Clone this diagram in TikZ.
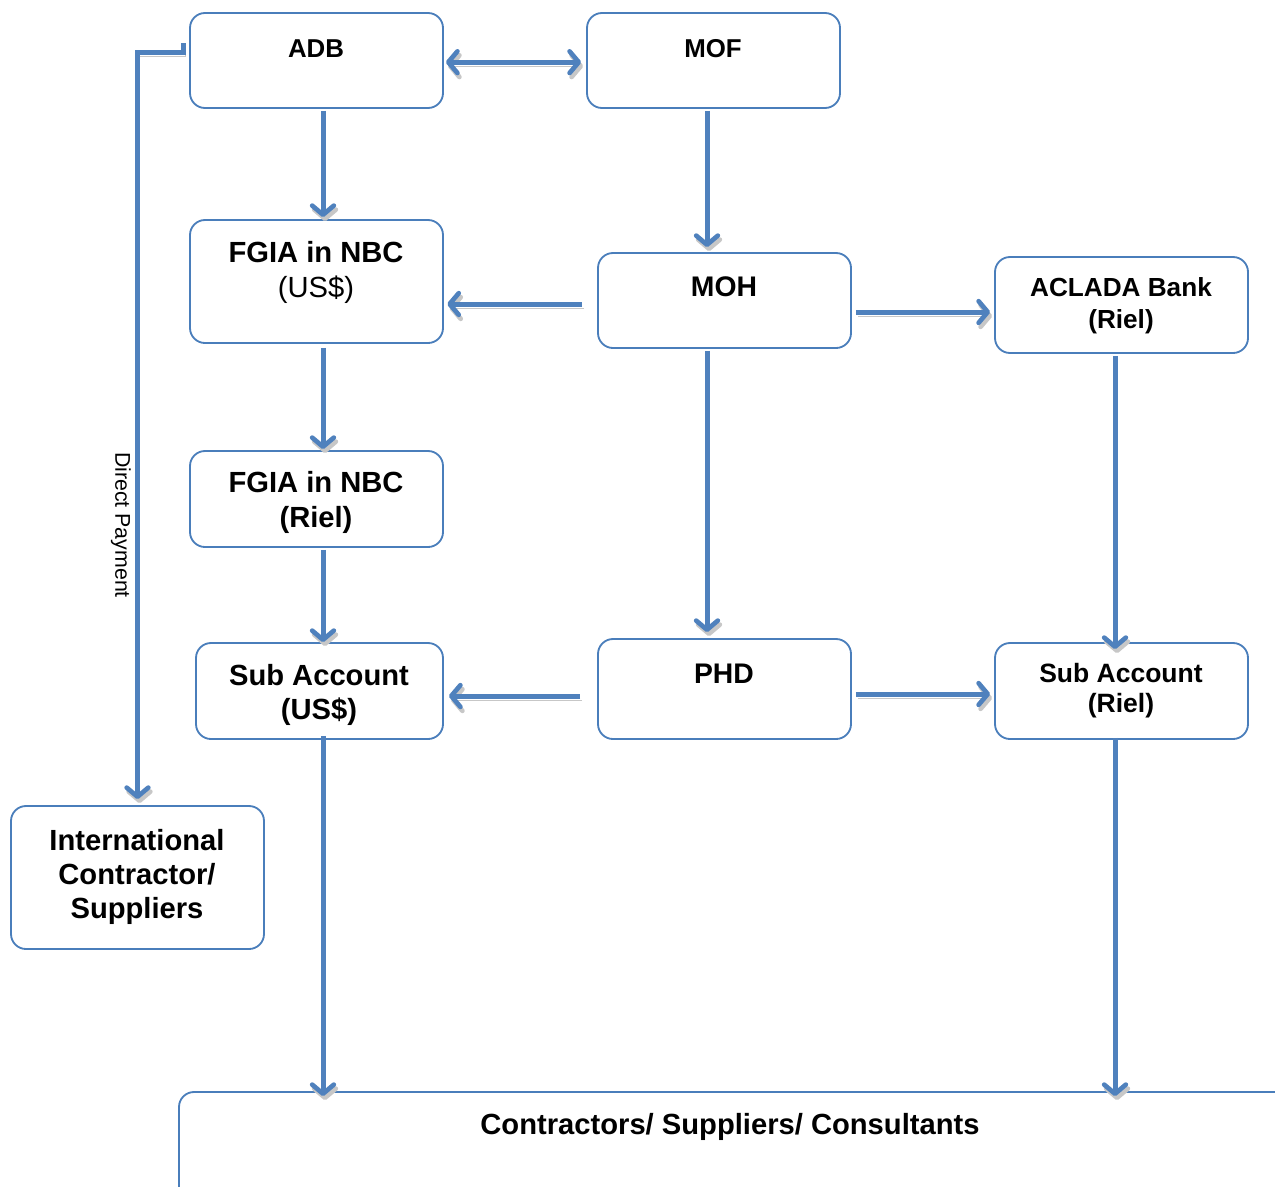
\documentclass[tikz,border=0pt]{standalone}
\usepackage{fontspec}
\setmainfont{Liberation Sans}
\usetikzlibrary{arrows.meta,fit}
\definecolor{boxblue}{RGB}{74,126,187}
\definecolor{arrblue}{RGB}{79,129,189}
\begin{document}
\begin{tikzpicture}[x=0.6pt,y=-0.6pt,
  box/.style={draw=boxblue,line width=1.1pt,rounded corners=9pt,inner sep=0pt,fill=white},
  lab/.style={font=\bfseries\fontsize{17.5pt}{20.4pt}\selectfont,align=center,inner sep=0pt},
  labm/.style={font=\bfseries\fontsize{15.5pt}{19pt}\selectfont,align=center,inner sep=0pt},
  arr/.style={draw=arrblue,line width=3pt,-{Straight Barb[length=5.5pt,width=13pt,round,line width=2.8pt]},
    preaction={draw=black!22,transform canvas={shift={(1.2pt,-2.4pt)}}}}]
\clip (0,0) rectangle (1275,1186);
\fill[white] (0,0) rectangle (1275,1186);
% boxes
\node[box,fit={(190,13)(443,108)}] (adb) {};
\node[box,fit={(587,13)(840,108)}] (mof) {};
\node[box,fit={(190,220)(443,343)}] (fgus) {};
\node[box,fit={(598,253)(851,348)}] (moh) {};
\node[box,fit={(995,257)(1248,353)}] (acl) {};
\node[box,fit={(190,451)(443,547)}] (fgri) {};
\node[box,fit={(196,643)(443,739)}] (subus) {};
\node[box,fit={(598,639)(851,739)}] (phd) {};
\node[box,fit={(995,643)(1248,739)}] (subri) {};
\node[box,fit={(11,806)(264,949)}] (intl) {};
\node[box,fit={(179,1092)(1300,1210)}] (cons) {};
% texts
\node[labm] (adbt) at (316,48.5) {ADB};
\node[labm] (moft) at (713,48.5) {MOF};
\node[lab,font=\fontsize{17.5pt}{21pt}\selectfont] (fgust) at (316,272) {\textbf{FGIA in NBC}\\(US\$)};
\node[lab,font=\bfseries\fontsize{17pt}{20pt}\selectfont] (moht) at (724,286.5) {MOH};
\node[labm,font=\bfseries\fontsize{15.7pt}{19.2pt}\selectfont] (aclt) at (1121,306) {ACLADA Bank\\(Riel)};
\node[lab,font=\bfseries\fontsize{17.5pt}{21pt}\selectfont] (fgrit) at (316,502) {FGIA in NBC\\(Riel)};
\node[lab] (subust) at (319,694.5) {Sub Account\\(US\$)};
\node[lab,font=\bfseries\fontsize{17pt}{20pt}\selectfont] (phdt) at (724,673.5) {PHD};
\node[labm,font=\bfseries\fontsize{15.9pt}{18pt}\selectfont] (subrit) at (1121,691) {Sub Account\\(Riel)};
\node[lab] (intlt) at (137,876.5) {International\\Contractor/\\Suppliers};
\node[lab] (const) at (730,1127) {Contractors/ Suppliers/ Consultants};
\node[inner sep=0pt,font=\fontsize{12.8pt}{15pt}\selectfont,rotate=-90] (dpt) at (121,525) {Direct Payment};
% connectors
\draw[arr,{Straight Barb[length=5.5pt,width=13pt,round,line width=2.8pt]}-{Straight Barb[length=5.5pt,width=13pt,round,line width=2.8pt]},shorten <=1.2pt,shorten >=3pt] ([yshift=-1pt]adb.east) -- ([yshift=-1pt]adb.east -| mof.west);
\draw[arr,shorten <=1.2pt,shorten >=1.2pt] ([xshift=3.9pt]adb.south) -- ([xshift=3.9pt]adb.south |- fgus.north);
\draw[arr,shorten <=1.2pt,shorten >=3pt] ([xshift=-3.9pt]mof.south) -- ([xshift=-3.9pt]mof.south |- moh.north);
\draw[arr,shorten <=9pt,shorten >=2pt] ([yshift=-2.1pt]moh.west) -- ([yshift=-2.1pt]moh.west -| fgus.east);
\draw[arr,shorten <=2.4pt,shorten >=2.4pt] ([yshift=-6.9pt]moh.east) -- ([yshift=-6.9pt]moh.east -| acl.west);
\draw[arr,shorten <=2.4pt,shorten >=0.6pt] ([xshift=3.9pt]fgus.south) -- ([xshift=3.9pt]fgus.south |- fgri.north);
\draw[arr,shorten <=1.2pt,shorten >=3.6pt] ([xshift=-10.5pt]moh.south) -- ([xshift=-10.5pt]moh.south |- phd.north);
\draw[arr,shorten <=1.2pt,shorten >=-4.2pt] ([xshift=-3.9pt]acl.south) -- ([xshift=-3.9pt]acl.south |- subri.north);
\draw[arr,shorten <=1.2pt,shorten >=0pt] ([xshift=3.9pt]fgri.south) -- ([xshift=3.9pt]fgri.south |- subus.north);
\draw[arr,shorten <=10.2pt,shorten >=3pt] ([yshift=-4.2pt]phd.west) -- ([yshift=-4.2pt]phd.west -| subus.east);
\draw[arr,shorten <=2.4pt,shorten >=2.4pt] ([yshift=-3pt]phd.east) -- ([yshift=-3pt]phd.east -| subri.west);
\draw[arr,shorten <=-2.4pt,shorten >=-3pt] ([xshift=2.1pt]subus.south) -- ([xshift=2.1pt]subus.south |- cons.north);
\draw[arr,shorten <=-1.2pt,shorten >=-3pt] ([xshift=-3.9pt]subri.south) -- ([xshift=-3.9pt]subri.south |- cons.north);
\coordinate (dp0) at ([xshift=-3.6pt,yshift=10.5pt]adb.west);
\draw[arr,shorten >=3.6pt] (dp0) -- ++(0,9) -| (intl.north);
\end{tikzpicture}
\end{document}
